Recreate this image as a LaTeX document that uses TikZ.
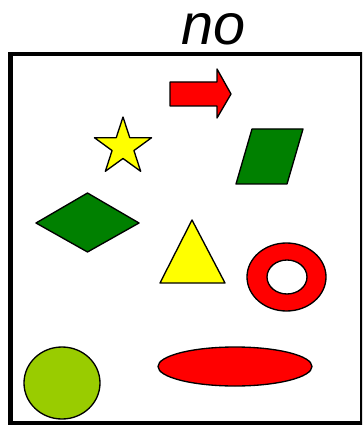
\documentclass[tikz,border=0pt]{standalone}
\usepackage{fontspec}
\setsansfont{Liberation Sans}
\usepackage{xcolor}
\usepackage{tikz}
\usetikzlibrary{positioning}

\definecolor{shapered}{RGB}{255,0,0}
\definecolor{shapegreen}{RGB}{0,128,0}
\definecolor{shapeyellow}{RGB}{255,255,0}
\definecolor{shapelime}{RGB}{153,204,0}

\begin{document}
\begin{tikzpicture}[
  x=0.025cm, y=-0.025cm,
  frame/.style={draw=black, line width=3.5pt},
  solid shape/.style={draw=black, line width=0.95pt, line join=round},
  title/.style={font=\sffamily\itshape\fontsize{41}{41}\selectfont, inner sep=0pt, anchor=base}
]
\useasboundingbox (0,0) rectangle (362,425);
\clip (0,0) rectangle (362,425);
\node[title] (heading) at (214,45) {no};
\draw[frame] (10.5,54) rectangle (362.5,423.5);
% arrow
\draw[solid shape, fill=shapered] (170,82) -- (217,82) -- (217,69) -- (231,94) -- (217,118) -- (217,106) -- (170,106) -- cycle;
% star
\draw[solid shape, fill=shapeyellow, shift={(123,147)}] (-90:30) -- (-54:11.5) -- (-18:30) -- (18:11.5) -- (54:30) -- (90:11.5) -- (126:30) -- (162:11.5) -- (198:30) -- (234:11.5) -- cycle;
% parallelogram
\draw[solid shape, fill=shapegreen] (252,129) -- (303,129) -- (287,184) -- (236,184) -- cycle;
% diamond
\draw[solid shape, fill=shapegreen] (36,223) -- (87.5,193) -- (139,223) -- (87.5,252) -- cycle;
% triangle
\draw[solid shape, fill=shapeyellow] (192,220) -- (225,283) -- (160,283) -- cycle;
% ring
\draw[solid shape, fill=shapered, even odd rule] (286.5,277) ellipse [x radius=39.5, y radius=34] (287,277) ellipse [x radius=20, y radius=17];
% ellipse
\draw[solid shape, fill=shapered] (235,366.5) ellipse [x radius=77, y radius=19.5];
% circle
\draw[solid shape, fill=shapelime] (62,383) ellipse [x radius=38, y radius=36];
\end{tikzpicture}
\end{document}
